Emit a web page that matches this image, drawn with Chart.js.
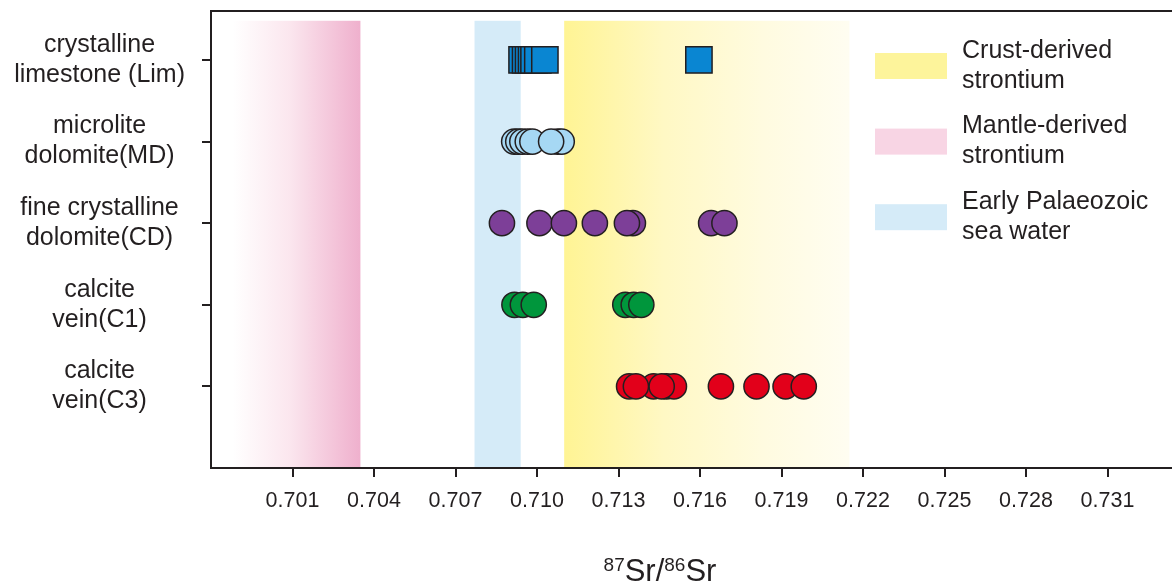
<!DOCTYPE html>
<html>
<head>
<meta charset="utf-8">
<title>87Sr/86Sr of carbonate samples</title>
<script src="https://cdn.jsdelivr.net/npm/chart.js@4.4.1/dist/chart.umd.min.js"></script>
<style>
  html, body { margin: 0; padding: 0; background: #ffffff; overflow: hidden; }
  #wrap { width: 1172px; height: 585px; overflow: hidden; position: relative; }
  canvas { display: block; }
</style>
</head>
<body>
<div id="wrap"><canvas id="srChart" width="1195" height="585"></canvas></div>
<script>
// ---- data ----
const categories = [
  ['crystalline', 'limestone (Lim)'],
  ['microlite', 'dolomite(MD)'],
  ['fine crystalline', 'dolomite(CD)'],
  ['calcite', 'vein(C1)'],
  ['calcite', 'vein(C3)']
];
const categoryRows = [5, 4, 3, 2, 1];

const limValues = [0.70945, 0.70958, 0.70969, 0.70980, 0.70989, 0.71003, 0.71029, 0.71596];
const mdValues  = [0.70916, 0.70931, 0.70946, 0.70966, 0.70983, 0.71076, 0.71091, 0.71052];
const cdValues  = [0.70871, 0.71009, 0.71099, 0.71213, 0.71353, 0.71331, 0.71641, 0.71690];
const c1Values  = [0.70917, 0.70948, 0.70988, 0.71325, 0.71356, 0.71384];
const c3Values  = [0.71429, 0.71477, 0.71504, 0.71339, 0.71364, 0.71459, 0.71677, 0.71808, 0.71915, 0.71982];

const xTickValues = [0.701, 0.704, 0.707, 0.710, 0.713, 0.716, 0.719, 0.722, 0.725, 0.728, 0.731];

// reference strontium source ranges
const mantleRange   = [0.6988, 0.7035];
const seaWaterRange = [0.7077, 0.7094];
const crustRange    = [0.7110, 0.7215];
const bandTop = 5.48;

const legendLabels = [
  ['Crust-derived', 'strontium'],
  ['Mantle-derived', 'strontium'],
  ['Early Palaeozoic', 'sea water']
];

// ---- styling ----
const INK = '#231f20';
const FONT = '"Liberation Sans", Arial, Helvetica, sans-serif';
const legendColors = ['#fdf49b', '#f8d5e4', '#d5ebf8'];

const bandsPlugin = {
  id: 'srBands',
  beforeDraw(chart) {
    const { ctx, chartArea, scales: { x, y } } = chart;
    const top = y.getPixelForValue(bandTop);
    const bottom = chartArea.bottom;
    ctx.save();
    ctx.fillStyle = '#ffffff';
    ctx.fillRect(0, 0, chart.width, chart.height);

    // mantle: white to pink
    let x0 = x.getPixelForValue(mantleRange[0]);
    let x1 = x.getPixelForValue(mantleRange[1]);
    let g = ctx.createLinearGradient(x0, 0, x1, 0);
    g.addColorStop(0, 'rgba(255,255,255,1)');
    g.addColorStop(0.45, '#fbe6ee');
    g.addColorStop(1, '#efb0cd');
    ctx.fillStyle = g;
    ctx.fillRect(x0, top, x1 - x0, bottom - top);

    // sea water: flat light blue
    x0 = x.getPixelForValue(seaWaterRange[0]);
    x1 = x.getPixelForValue(seaWaterRange[1]);
    ctx.fillStyle = '#d5ebf8';
    ctx.fillRect(x0, top, x1 - x0, bottom - top);

    // crust: yellow fading to white
    x0 = x.getPixelForValue(crustRange[0]);
    x1 = x.getPixelForValue(crustRange[1]);
    g = ctx.createLinearGradient(x0, 0, x1, 0);
    g.addColorStop(0, '#fff494');
    g.addColorStop(0.35, '#fff8c4');
    g.addColorStop(0.7, '#fffbe0');
    g.addColorStop(1, '#fffdf1');
    ctx.fillStyle = g;
    ctx.fillRect(x0, top, x1 - x0, bottom - top);
    ctx.restore();
  }
};

const framePlugin = {
  id: 'plotFrame',
  afterDatasetsDraw(chart) {
    const { ctx, chartArea } = chart;
    ctx.save();
    ctx.strokeStyle = INK;
    ctx.lineWidth = 2;
    ctx.beginPath();
    ctx.moveTo(chartArea.left - 1, chartArea.top);
    ctx.lineTo(chartArea.right, chartArea.top);
    ctx.lineTo(chartArea.right, chartArea.bottom);
    ctx.stroke();
    ctx.restore();
  }
};

const legendPlugin = {
  id: 'sourceLegend',
  afterDraw(chart) {
    const ctx = chart.ctx;
    ctx.save();
    ctx.font = `25px ${FONT}`;
    ctx.textBaseline = 'middle';
    ctx.textAlign = 'left';
    legendLabels.forEach((lines, i) => {
      const cy = 66 + i * 75.6;
      ctx.fillStyle = legendColors[i];
      ctx.fillRect(875, cy - 13, 72, 26);
      ctx.fillStyle = INK;
      lines.forEach((ln, j) => ctx.fillText(ln, 962, cy - 15 + j * 30));
    });
    ctx.restore();
  }
};

const axisTitlePlugin = {
  id: 'srRatioTitle',
  afterDraw(chart) {
    const ctx = chart.ctx;
    const parts = [['87', true], ['Sr/', false], ['86', true], ['Sr', false]];
    const big = 31, small = 19, base = 581;
    ctx.save();
    ctx.fillStyle = INK;
    ctx.textBaseline = 'alphabetic';
    ctx.textAlign = 'left';
    let total = 0;
    const widths = parts.map(([t, sup]) => {
      ctx.font = `${sup ? small : big}px ${FONT}`;
      const w = ctx.measureText(t).width;
      total += w;
      return w;
    });
    let cx = 660 - total / 2;
    parts.forEach(([t, sup], i) => {
      ctx.font = `${sup ? small : big}px ${FONT}`;
      ctx.fillText(t, cx, sup ? base - 10 : base);
      cx += widths[i];
    });
    ctx.restore();
  }
};

function rowData(values, row) {
  return values.map(v => ({ x: v, y: row }));
}

const seriesStyle = (label, values, row, color, style, radius) => ({
  label,
  data: rowData(values, row),
  backgroundColor: color,
  borderColor: INK,
  borderWidth: 1.5,
  pointStyle: style,
  pointRadius: radius,
  pointHoverRadius: radius
});

const datasets = [
  seriesStyle('Lim', limValues, categoryRows[0], '#0a86d2', 'rect', 18.6),
  seriesStyle('MD', mdValues, categoryRows[1], '#a6d8f4', 'circle', 12.6),
  seriesStyle('CD', cdValues, categoryRows[2], '#7d3f98', 'circle', 12.6),
  seriesStyle('C1', c1Values, categoryRows[3], '#00963c', 'circle', 12.6),
  seriesStyle('C3', c3Values, categoryRows[4], '#e2001a', 'circle', 12.6)
];

const axisGrid = {
  display: true,
  drawOnChartArea: false,
  drawTicks: true,
  tickLength: 9,
  color: INK,
  lineWidth: 2
};

new Chart(document.getElementById('srChart'), {
  type: 'scatter',
  data: { datasets },
  plugins: [bandsPlugin, framePlugin, legendPlugin, axisTitlePlugin],
  options: {
    responsive: false,
    animation: false,
    events: [],
    layout: { autoPadding: false, padding: { top: 11, right: 6, left: 0, bottom: 0 } },
    plugins: { legend: { display: false }, tooltip: { enabled: false }, title: { display: false } },
    scales: {
      x: {
        type: 'linear',
        min: 0.698,
        max: 0.734,
        afterBuildTicks: s => { s.ticks = xTickValues.map(v => ({ value: v })); },
        afterFit: s => {
          s.height = 117;
          s.paddingLeft = 0; s.paddingRight = 0;
        },
        ticks: {
          callback: v => Number(v).toFixed(3),
          font: { family: FONT, size: 21.5 },
          color: INK,
          padding: 11,
          maxRotation: 0,
          autoSkip: false
        },
        grid: axisGrid,
        border: { display: true, color: INK, width: 2 }
      },
      y: {
        type: 'linear',
        min: 0,
        max: 5.6,
        afterBuildTicks: s => { s.ticks = categoryRows.map(v => ({ value: v })); },
        afterFit: s => {
          s.width = 211;
          s.paddingTop = 0; s.paddingBottom = 0;
        },
        ticks: {
          callback: v => categories[categoryRows.indexOf(v)],
          crossAlign: 'center',
          padding: 17,
          font: { family: FONT, size: 25, lineHeight: 1.2 },
          color: INK,
          autoSkip: false
        },
        grid: axisGrid,
        border: { display: true, color: INK, width: 2 }
      }
    }
  }
});
</script>
</body>
</html>
